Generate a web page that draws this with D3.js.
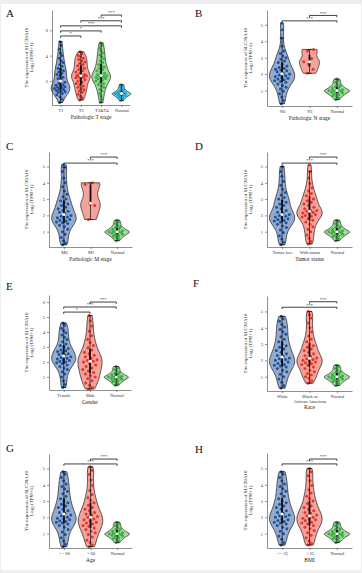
<!DOCTYPE html>
<html>
<head>
<meta charset="utf-8">
<script src="https://cdn.jsdelivr.net/npm/d3@7"></script>
<style>
  body { margin: 0; background: #eeeeee; }
  svg { display: block; font-family: "Liberation Serif", "Times New Roman", serif; }
</style>
</head>
<body>
<div id="chart"></div>
<script>
// ---- data (log2(TPM+1) of SLC39A10) ----
const normalValues = [0.45, 0.55, 0.65, 0.7, 0.75, 0.8, 0.85, 0.88, 0.9, 0.95, 0.98, 1.0, 1.0, 1.02, 1.05, 1.1, 1.15, 1.2, 1.25, 1.3, 1.4, 1.5, 1.6, 1.7];

const tStageCats = ['T1', 'T2', 'T3&T4', 'Normal'];
const t1Values = [0.3, 0.55, 0.75, 0.9, 1.0, 1.1, 1.15, 1.2, 1.25, 1.3, 1.35, 1.4, 1.45, 1.5, 1.55, 1.6, 1.65, 1.7, 1.8, 1.9, 2.1, 2.2, 2.3, 2.4, 2.5, 2.6, 2.7, 2.8, 2.9, 3.0, 3.15, 3.3, 3.45, 3.6, 3.8, 4.0, 4.2, 4.5, 4.8, 5.1];
const t2Values = [0.5, 0.65, 0.8, 0.95, 1.1, 1.2, 1.3, 1.4, 1.5, 1.6, 1.7, 1.8, 1.9, 2.0, 2.1, 2.2, 2.25, 2.3, 2.35, 2.4, 2.4, 2.45, 2.5, 2.6, 2.7, 2.8, 2.9, 3.0, 3.1, 3.2, 3.3, 3.4, 3.5, 3.6, 3.7, 3.8, 3.9, 4.0, 4.15, 4.3];
const t34Values = [0.3, 0.55, 0.8, 1.0, 1.2, 1.35, 1.5, 1.6, 1.7, 1.8, 1.9, 2.0, 2.1, 2.15, 2.2, 2.25, 2.3, 2.35, 2.4, 2.4, 2.45, 2.5, 2.6, 2.7, 2.8, 2.9, 3.0, 3.1, 3.2, 3.3, 3.45, 3.6, 3.75, 3.9, 4.05, 4.2, 4.4, 4.6, 4.8, 5.0];
const tStageBrackets = [[0, 1, 5.55, '*'], [0, 2, 5.95, '*'], [0, 3, 6.35, '***'], [1, 3, 6.75, '***'], [2, 3, 7.2, '***']];

const nStageCats = ['N0', 'N1', 'Normal'];
const n0Values = [0.2, 0.4, 0.6, 0.8, 0.95, 1.1, 1.2, 1.3, 1.4, 1.5, 1.55, 1.6, 1.65, 1.7, 1.75, 1.8, 1.85, 1.9, 1.95, 2.0, 2.05, 2.15, 2.2, 2.25, 2.3, 2.35, 2.4, 2.5, 2.6, 2.7, 2.8, 2.9, 3.0, 3.1, 3.25, 3.4, 3.7, 4.2, 4.7, 5.1];
const n1Values = [2.05, 2.3, 2.6, 2.75, 2.95, 3.4, 3.5];
const nStageBrackets = [[0, 2, 5.24, '***'], [1, 2, 5.57, '***']];

const mStageCats = ['M0', 'M1', 'Normal'];
const m0Values = [0.2, 0.3, 0.45, 0.65, 0.85, 1.0, 1.15, 1.3, 1.4, 1.5, 1.55, 1.6, 1.65, 1.7, 1.75, 1.8, 1.85, 1.9, 1.95, 2.0, 2.1, 2.2, 2.25, 2.3, 2.4, 2.5, 2.6, 2.7, 2.8, 2.9, 3.0, 3.15, 3.3, 3.5, 3.75, 4.0, 4.3, 4.7, 4.95, 5.1];
const m1Values = [1.75, 2.6, 2.75, 3.9, 4.0];
const mStageBrackets = [[0, 2, 5.21, '***'], [1, 2, 5.58, '***']];

const tumorCats = ['Tumor free', 'With tumor', 'Normal'];
const tumorFreeValues = [0.2, 0.35, 0.55, 0.75, 0.95, 1.1, 1.25, 1.35, 1.45, 1.55, 1.6, 1.65, 1.7, 1.75, 1.8, 1.85, 1.9, 1.95, 2.0, 2.05, 2.15, 2.2, 2.3, 2.4, 2.5, 2.6, 2.7, 2.8, 2.9, 3.0, 3.1, 3.25, 3.4, 3.6, 3.85, 4.1, 4.4, 4.7, 5.0];
const withTumorValues = [0.25, 0.4, 0.6, 0.8, 1.0, 1.15, 1.3, 1.45, 1.6, 1.7, 1.8, 1.9, 1.95, 2.0, 2.05, 2.1, 2.15, 2.2, 2.25, 2.3, 2.3, 2.4, 2.5, 2.6, 2.7, 2.8, 2.9, 3.0, 3.1, 3.2, 3.35, 3.5, 3.7, 3.95, 4.3, 4.7, 5.1];
const tumorBrackets = [[0, 2, 5.21, '***'], [1, 2, 5.58, '***']];

const genderCats = ['Female', 'Male', 'Normal'];
const femaleValues = [0.3, 0.5, 0.75, 1.0, 1.2, 1.35, 1.5, 1.6, 1.7, 1.8, 1.9, 1.95, 2.0, 2.05, 2.1, 2.15, 2.2, 2.25, 2.3, 2.35, 2.45, 2.5, 2.55, 2.6, 2.7, 2.75, 2.8, 2.9, 3.0, 3.1, 3.2, 3.35, 3.5, 3.65, 3.8, 3.95, 4.1, 4.25, 4.45, 4.6];
const maleValues = [0.2, 0.3, 0.45, 0.6, 0.75, 0.9, 1.0, 1.1, 1.2, 1.3, 1.4, 1.5, 1.6, 1.7, 1.8, 1.9, 2.0, 2.05, 2.1, 2.15, 2.25, 2.35, 2.45, 2.55, 2.65, 2.8, 2.95, 3.1, 3.3, 3.5, 3.75, 4.05, 4.4, 4.75, 5.1];
const genderBrackets = [[0, 1, 5.33, '*'], [0, 2, 5.67, '***'], [1, 2, 6.0, '***']];

const raceCats = ['White', 'Black or African American', 'Normal'];
const raceAValues = [0.3, 0.45, 0.65, 0.85, 1.0, 1.15, 1.3, 1.4, 1.5, 1.6, 1.65, 1.7, 1.75, 1.8, 1.9, 1.95, 2.0, 2.05, 2.1, 2.15, 2.25, 2.3, 2.4, 2.5, 2.6, 2.7, 2.8, 2.9, 3.0, 3.15, 3.3, 3.45, 3.6, 3.75, 3.9, 4.05, 4.2, 4.4, 4.55, 4.7];
const raceBValues = [0.6, 0.75, 0.9, 1.0, 1.1, 1.2, 1.3, 1.4, 1.5, 1.6, 1.7, 1.75, 1.8, 1.85, 1.9, 1.95, 2.0, 2.05, 2.1, 2.15, 2.25, 2.3, 2.4, 2.5, 2.6, 2.7, 2.8, 2.9, 3.0, 3.15, 3.3, 3.5, 3.75, 4.0, 4.3, 4.6, 4.8, 5.0];
const raceBrackets = [[0, 2, 5.26, '***'], [1, 2, 5.6, '***']];

const ageCats = ['<= 60', '> 60', 'Normal'];
const ageLowValues = [0.2, 0.35, 0.55, 0.75, 0.95, 1.1, 1.25, 1.4, 1.5, 1.6, 1.65, 1.7, 1.75, 1.8, 1.85, 1.9, 1.95, 2.0, 2.1, 2.15, 2.25, 2.3, 2.4, 2.5, 2.6, 2.7, 2.8, 2.9, 3.0, 3.15, 3.3, 3.45, 3.6, 3.75, 3.9, 4.05, 4.25, 4.45, 4.65, 4.8];
const ageHighValues = [0.2, 0.3, 0.45, 0.6, 0.8, 0.95, 1.05, 1.15, 1.25, 1.35, 1.45, 1.5, 1.6, 1.65, 1.7, 1.8, 1.85, 1.9, 2.0, 2.05, 2.15, 2.2, 2.3, 2.4, 2.5, 2.6, 2.75, 2.9, 3.05, 3.2, 3.4, 3.65, 3.95, 4.3, 4.65, 4.9, 5.1];
const ageBrackets = [[0, 2, 5.28, '***'], [1, 2, 5.58, '***']];

const bmiCats = ['<= 25', '> 25', 'Normal'];
const bmiLowValues = [0.3, 0.45, 0.65, 0.85, 1.0, 1.15, 1.3, 1.4, 1.5, 1.6, 1.65, 1.7, 1.75, 1.8, 1.85, 1.9, 2.0, 2.05, 2.1, 2.15, 2.25, 2.3, 2.4, 2.5, 2.6, 2.7, 2.8, 2.9, 3.0, 3.15, 3.3, 3.45, 3.6, 3.75, 3.9, 4.05, 4.25, 4.45, 4.65, 4.8];
const bmiHighValues = [0.3, 0.4, 0.55, 0.75, 0.9, 1.05, 1.2, 1.3, 1.4, 1.5, 1.6, 1.65, 1.7, 1.8, 1.85, 1.9, 1.95, 2.0, 2.1, 2.15, 2.25, 2.3, 2.4, 2.5, 2.6, 2.7, 2.85, 3.0, 3.15, 3.3, 3.5, 3.7, 3.95, 4.25, 4.55, 4.8, 5.0];
const bmiBrackets = [[0, 2, 5.28, '***'], [1, 2, 5.58, '***']];

// ---- styles ----
const blue = { fill: '#96abcc', point: '#0f4a98' };
const red = { fill: '#f2a39b', point: '#e4281c' };
const green = { fill: '#a4d99c', point: '#37a944' };
const cyan = { fill: '#80cfe0', point: '#23a2c6' };

const panels = [
  { label: 'A', lx: 6, ly: 17, x0: 52, x1: 130, yTop: 10, yBot: 105, domain: [0.1, 7.6], ticks: [2, 4, 6],
    pad: 0.42, titleDx: -24, xTitle: 'Pathologic T stage', cats: tStageCats,
    groups: [t1Values, t2Values, t34Values, normalValues], colors: [blue, red, green, cyan], brackets: tStageBrackets },
  { label: 'B', lx: 195, ly: 17, x0: 267, x1: 352, yTop: 10, yBot: 106, domain: [0.06, 5.9], ticks: [1, 2, 3, 4, 5],
    pad: 0.55, titleDx: -20.5, xTitle: 'Pathologic N stage', cats: nStageCats,
    groups: [n0Values, n1Values, normalValues], colors: [blue, red, green], brackets: nStageBrackets },
  { label: 'C', lx: 6, ly: 150, x0: 49, x1: 132, yTop: 152, yBot: 247, domain: [0.06, 5.89], ticks: [1, 2, 3, 4, 5],
    pad: 0.56, titleDx: -21, xTitle: 'Pathologic M stage', cats: mStageCats,
    groups: [m0Values, m1Values, normalValues], colors: [blue, red, green], brackets: mStageBrackets },
  { label: 'D', lx: 195, ly: 150, x0: 267, x1: 352, yTop: 152, yBot: 247, domain: [0.06, 5.89], ticks: [1, 2, 3, 4, 5],
    pad: 0.55, titleDx: -20.5, xTitle: 'Tumor status', cats: tumorCats,
    groups: [tumorFreeValues, withTumorValues, normalValues], colors: [blue, red, green], brackets: tumorBrackets },
  { label: 'E', lx: 6, ly: 290, x0: 49, x1: 131, yTop: 295, yBot: 390, domain: [0.13, 6.47], ticks: [1, 2, 3, 4, 5, 6],
    pad: 0.56, titleDx: -21, xTitle: 'Gender', cats: genderCats,
    groups: [femaleValues, maleValues, normalValues], colors: [blue, red, green], brackets: genderBrackets },
  { label: 'F', lx: 193, ly: 287, x0: 267, x1: 352, yTop: 296, yBot: 391, domain: [0.12, 5.95], ticks: [1, 2, 3, 4, 5],
    pad: 0.55, titleDx: -20.5, xTitle: 'Race', titleDy: 4, cats: raceCats,
    groups: [raceAValues, raceBValues, normalValues], colors: [blue, red, green], brackets: raceBrackets },
  { label: 'G', lx: 6, ly: 452, x0: 49, x1: 132, yTop: 454, yBot: 548, domain: [0.12, 5.89], ticks: [1, 2, 3, 4, 5],
    pad: 0.56, titleDx: -21, xTitle: 'Age', cats: ageCats,
    groups: [ageLowValues, ageHighValues, normalValues], colors: [blue, red, green], brackets: ageBrackets },
  { label: 'H', lx: 195, ly: 453, x0: 267, x1: 352, yTop: 453, yBot: 548, domain: [0.12, 5.95], ticks: [1, 2, 3, 4, 5],
    pad: 0.55, titleDx: -20.5, xTitle: 'BMI', cats: bmiCats,
    groups: [bmiLowValues, bmiHighValues, normalValues], colors: [blue, red, green], brackets: bmiBrackets }
];

const width = 362, height = 573;
const svg = d3.select('#chart').append('svg').attr('width', width).attr('height', height);
svg.append('rect').attr('x', 1).attr('y', 4).attr('width', width - 2).attr('height', 566).attr('fill', '#fff');

function bandwidth(values) {
  const s = values.slice().sort(d3.ascending);
  const iqr = d3.quantile(s, 0.75) - d3.quantile(s, 0.25);
  const lo = Math.min(d3.deviation(s), iqr / 1.34);
  return 0.9 * lo * Math.pow(s.length, -0.2) * 0.75;
}

function density(values, bw) {
  return v => d3.mean(values, x => Math.exp(-0.5 * ((v - x) / bw) ** 2));
}

panels.forEach(p => {
  const g = svg.append('g');
  const y = d3.scaleLinear().domain(p.domain).range([p.yBot, p.yTop]);
  const x = d3.scalePoint().domain(p.cats).range([p.x0, p.x1]).padding(p.pad);

  // panel letter
  g.append('text').attr('x', p.lx).attr('y', p.ly).attr('font-size', 11).attr('fill', '#111').text(p.label);

  // violins, points, boxes
  p.groups.forEach((vals, gi) => {
    const cx = x(p.cats[gi]);
    const col = p.colors[gi];
    const sorted = vals.slice().sort(d3.ascending);
    const dens = density(sorted, bandwidth(sorted));
    const lo = sorted[0], hi = sorted[sorted.length - 1];
    const grid = d3.range(61).map(i => lo + (hi - lo) * i / 60);
    const prof = grid.map(v => [v, dens(v)]);
    const dmax = d3.max(prof, d => d[1]);
    // small groups are drawn a bit narrower, as in the figure
    const halfMax = x.step() * 0.46 * (vals.length < 10 ? 0.8 : 1);
    const w = d3.scaleLinear().domain([0, dmax]).range([0, halfMax]);

    const area = d3.area()
      .curve(d3.curveCatmullRom)
      .y(d => y(d[0]))
      .x0(d => cx - w(d[1]))
      .x1(d => cx + w(d[1]));
    g.append('path').attr('d', area(prof))
      .attr('fill', col.fill).attr('stroke', '#1a1a1a').attr('stroke-width', 0.7);

    g.append('g').selectAll('circle').data(vals).join('circle')
      .attr('cx', (v, i) => cx + (((i * 0.618034 + 0.21) % 1) * 2 - 1) * w(dens(v)) * 0.66)
      .attr('cy', v => y(v))
      .attr('r', 1.5)
      .attr('fill', col.point)
      .attr('fill-opacity', 0.9);

    const q1 = d3.quantile(sorted, 0.25), q2 = d3.quantile(sorted, 0.5), q3 = d3.quantile(sorted, 0.75);
    const iqr = q3 - q1;
    const wLo = d3.min(sorted.filter(v => v >= q1 - 1.5 * iqr));
    const wHi = d3.max(sorted.filter(v => v <= q3 + 1.5 * iqr));
    g.append('line').attr('x1', cx).attr('x2', cx).attr('y1', y(wLo)).attr('y2', y(wHi))
      .attr('stroke', '#111').attr('stroke-width', 0.7);
    [wLo, wHi].forEach(v => g.append('line').attr('x1', cx - 2.2).attr('x2', cx + 2.2)
      .attr('y1', y(v)).attr('y2', y(v)).attr('stroke', '#111').attr('stroke-width', 0.7));
    g.append('rect').attr('x', cx - 0.9).attr('width', 1.8).attr('y', y(q3)).attr('height', y(q1) - y(q3))
      .attr('fill', '#111');
    g.append('circle').attr('cx', cx).attr('cy', y(q2)).attr('r', 1.5).attr('fill', '#fff');
  });

  // significance brackets
  p.brackets.forEach(([a, b, h, lab]) => {
    const xa = x(p.cats[a]), xb = x(p.cats[b]), yy = y(h);
    g.append('path').attr('d', `M${xa},${yy + 1.8}V${yy}H${xb}V${yy + 1.8}`)
      .attr('fill', 'none').attr('stroke', '#111').attr('stroke-width', 0.8);
    g.append('text').attr('x', (xa + xb) / 2).attr('y', yy - 0.7).attr('text-anchor', 'middle')
      .attr('font-size', 4.5).attr('fill', '#222').text(lab);
  });

  // axes
  const yAxis = g.append('g').attr('transform', `translate(${p.x0},0)`)
    .call(d3.axisLeft(y).tickValues(p.ticks).tickFormat(d3.format('d')).tickSize(2).tickSizeOuter(0).tickPadding(2));
  const xAxis = g.append('g').attr('transform', `translate(0,${p.yBot})`)
    .call(d3.axisBottom(x).tickSize(2).tickSizeOuter(0).tickPadding(2));
  [yAxis, xAxis].forEach(a => {
    a.select('.domain').attr('stroke', '#444').attr('stroke-width', 0.6);
    a.selectAll('.tick line').attr('stroke', '#444').attr('stroke-width', 0.6);
    a.selectAll('.tick text').attr('font-size', 4.5).attr('fill', '#333')
      .attr('font-family', '"Liberation Serif", serif');
  });
  // wrap long category names (e.g. race) onto two lines
  xAxis.selectAll('.tick text').each(function (d) {
    const words = String(d).split(' ');
    if (words.length > 3) {
      const t = d3.select(this).text(null);
      t.append('tspan').attr('x', 0).text(words.slice(0, 2).join(' '));
      t.append('tspan').attr('x', 0).attr('dy', 4.6).text(words.slice(2).join(' '));
    }
  });

  // axis titles
  g.append('text').attr('x', (p.x0 + p.x1) / 2).attr('y', p.yBot + 14 + (p.titleDy || 0))
    .attr('text-anchor', 'middle').attr('font-size', 5.5).attr('fill', '#222').text(p.xTitle);
  const ty = g.append('text')
    .attr('transform', `translate(${p.x0 + p.titleDx},${(p.yTop + p.yBot) / 2}) rotate(-90)`)
    .attr('text-anchor', 'middle').attr('font-size', 5).attr('fill', '#222');
  ty.append('tspan').attr('x', 0).attr('y', 0).text('The expression  of SLC39A10');
  const t2 = ty.append('tspan').attr('x', 0).attr('y', 5.2);
  t2.append('tspan').text('Log');
  t2.append('tspan').attr('font-size', 3.5).attr('dy', 1.2).text('2');
  t2.append('tspan').attr('dy', -1.2).text(' (TPM+1)');
});
</script>
</body>
</html>
